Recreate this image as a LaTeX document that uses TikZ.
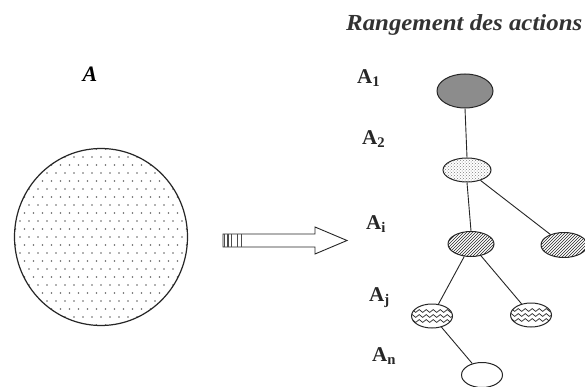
\documentclass[tikz,border=0pt]{standalone}
\usepackage{fontspec}
\setmainfont{Liberation Serif}
\usetikzlibrary{patterns,shapes.geometric,decorations.pathmorphing}
\tikzset{
  nd/.style={ellipse, draw, line width=1pt, draw=black!85, inner sep=0pt},
  lbl/.style={font=\fontsize{21}{21}\selectfont\bfseries, inner sep=0pt, anchor=west, text=black!85},
  link/.style={draw, line width=0.9pt, draw=black!85},
  wavy/.style={path picture={
      \foreach \k in {-5,0,5}{
        \draw[line width=0.7pt, decorate, decoration={snake, amplitude=1.4pt, segment length=7pt}]
          ([xshift=-22pt, yshift=\k pt]path picture bounding box.center) --
          ([xshift=22pt, yshift=\k pt]path picture bounding box.center);}}},
  hatch/.style={pattern=north east lines, pattern color=black!85},
}
\begin{document}
\begin{tikzpicture}[x=1pt,y=-1pt]
\useasboundingbox (0,0) rectangle (585,387);
\fill[white] (0,0) rectangle (585,387);

% title and set label
\node[font=\fontsize{23}{23}\selectfont\itshape\bfseries, anchor=west, inner sep=0pt, text=black!80, xscale=1.08] (title) at (346,25) {Rangement des actions};
\node[font=\fontsize{22}{22}\selectfont\itshape\bfseries, inner sep=0pt] (setA) at (90,74) {A};

% big set ellipse with dots
\node[nd, line width=1.2pt, minimum width=173pt, minimum height=177pt,
  path picture={
    \foreach \j in {-11,...,11}{
      \foreach \i in {-11,...,11}{
        \pgfmathsetmacro\xx{\i*9+mod(abs(\j),2)*4.5}
        \fill[black!60] ([xshift=\xx pt, yshift=\j*8pt]path picture bounding box.center) circle[radius=0.85pt];
      }}
  }] (big) at (101,237) {};

% block arrow
\draw[line width=0.9pt, draw=black!85, fill=white] (223,234) -- (315,234) -- (315,227) -- (347,240.5) -- (315,254) -- (315,247) -- (223,247) -- cycle;
\foreach \xx/\w in {224.5/1.8, 228/1.2, 231.5/1.8, 237.5/1.6, 241.5/1.2}
  \draw[line width=\w pt, draw=black!70] (\xx,234) -- (\xx,247);

% tree nodes
\node[nd, fill=black!45, minimum width=56pt, minimum height=34pt] (n1) at (465,91) {};
\node[nd, pattern=crosshatch dots, pattern color=black!50, minimum width=48pt, minimum height=24pt] (n2) at (467,170) {};
\node[nd, hatch, minimum width=46pt, minimum height=25pt] (ni) at (471,244) {};
\node[nd, hatch, minimum width=46pt, minimum height=25pt] (nr) at (564,245) {};
\node[nd, wavy, minimum width=41pt, minimum height=24pt] (nj) at (432,316) {};
\node[nd, wavy, minimum width=41pt, minimum height=24pt] (njr) at (531,315) {};
\node[nd, fill=white, minimum width=41pt, minimum height=25pt] (nn) at (482,375) {};

% links
\path[link] (n1.south) -- (n2.north);
\path[link] (n2.south) -- (ni.north);
\path[link] (n2) -- (nr);
\path[link] (ni) -- (nj);
\path[link] (ni) -- (njr);
\path[link] (nj) -- (nn);

% level labels
\node[lbl] (l1) at (357,78) {A\textsubscript{1}};
\node[lbl] (l2) at (362,139) {A\textsubscript{2}};
\node[lbl] (li) at (366,224) {A\textsubscript{i}};
\node[lbl] (lj) at (369,298) {A\textsubscript{j}};
\node[lbl] (ln) at (372,356) {A\textsubscript{n}};
\end{tikzpicture}
\end{document}
